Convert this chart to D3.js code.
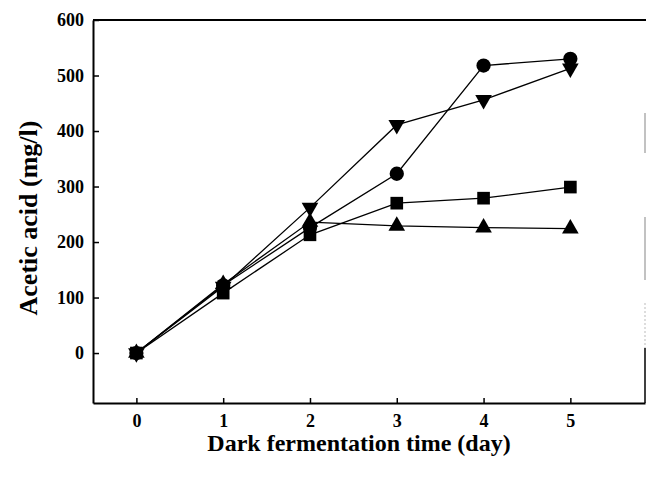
<!DOCTYPE html>
<html>
<head>
<meta charset="utf-8">
<script src="https://cdn.jsdelivr.net/npm/d3@7"></script>
<style>
  body { margin: 0; background: #fff; }
  svg text { font-family: "Liberation Serif", "Times New Roman", serif; font-weight: bold; }
</style>
</head>
<body>
<svg id="chart"></svg>
<script>
// acetic acid over dark fermentation days, four runs
var days = [0, 1, 2, 3, 4, 5];
var circleVals = [0, 122, 226, 323, 518, 530];
var downTriVals = [0, 120, 262, 411, 456, 513];
var squareVals = [0, 108, 213, 270, 279, 299];
var upTriVals = [0, 124, 236, 229, 226, 224];
var yTicks = [0, 100, 200, 300, 400, 500, 600];

var WIDTH = 646, HEIGHT = 477;
var svg = d3.select('#chart').attr('width', WIDTH).attr('height', HEIGHT);

var xScale = d3.scaleLinear().domain([-0.5, 5.86]).range([93, 645]);
var yScale = d3.scaleLinear().domain([-90, 600]).range([403, 20]);

// left axis, ticks pointing inward
var leftAxis = d3.axisLeft(yScale).tickValues(yTicks).tickFormat(d3.format('d'))
  .tickSizeInner(-6).tickSizeOuter(0).tickPadding(9);
var gy = svg.append('g').attr('transform', 'translate(93,0)').call(leftAxis);
gy.selectAll('text').style('font-size', '18px').attr('fill', '#000');

var bottomAxis = d3.axisBottom(xScale).tickValues(days).tickFormat(d3.format('d'))
  .tickSizeInner(-5).tickSizeOuter(0).tickPadding(11);
var gx = svg.append('g').attr('transform', 'translate(0,403)').call(bottomAxis);
gx.selectAll('text').style('font-size', '18px').attr('fill', '#000');

svg.selectAll('.domain').attr('stroke', '#000').attr('stroke-width', 2);
svg.selectAll('.tick line').attr('stroke', '#000').attr('stroke-width', 1.5);

// top frame line and faint right edge
svg.append('line').attr('x1', 93).attr('x2', 646).attr('y1', 20).attr('y2', 20)
  .attr('stroke', '#000').attr('stroke-width', 2);
svg.append('line').attr('x1', 645).attr('x2', 645).attr('y1', 113).attr('y2', 153)
  .attr('stroke', '#999').attr('stroke-width', 1.2);
svg.append('line').attr('x1', 645).attr('x2', 645).attr('y1', 217).attr('y2', 280)
  .attr('stroke', '#999').attr('stroke-width', 1.2);
svg.append('line').attr('x1', 645).attr('x2', 645).attr('y1', 303).attr('y2', 348)
  .attr('stroke', '#bbb').attr('stroke-width', 1).attr('stroke-dasharray', '2,2');
svg.append('line').attr('x1', 645).attr('x2', 645).attr('y1', 348).attr('y2', 403)
  .attr('stroke', '#000').attr('stroke-width', 1.5);

var series = [
  {vals: squareVals, sym: d3.symbolSquare, size: 160, rot: 0},
  {vals: upTriVals, sym: d3.symbolTriangle, size: 120, rot: 0},
  {vals: circleVals, sym: d3.symbolCircle, size: 160, rot: 0},
  {vals: downTriVals, sym: d3.symbolTriangle, size: 120, rot: 180}
];

var line = d3.line()
  .x(function(d, i) { return xScale(days[i]); })
  .y(function(d) { return yScale(d); });

series.forEach(function(s) {
  svg.append('path').datum(s.vals).attr('d', line)
    .attr('fill', 'none').attr('stroke', '#000').attr('stroke-width', 1.3);
});

series.forEach(function(s) {
  svg.selectAll(null).data(s.vals).enter().append('path')
    .attr('d', d3.symbol().type(s.sym).size(s.size))
    .attr('transform', function(d, i) {
      return 'translate(' + xScale(days[i]) + ',' + yScale(d) + ') rotate(' + s.rot + ')';
    })
    .attr('fill', '#000');
});

svg.append('text').attr('x', 359).attr('y', 451).attr('text-anchor', 'middle')
  .style('font-size', '24px').text('Dark fermentation time (day)');
svg.append('text').attr('transform', 'translate(37,218) rotate(-90)').attr('text-anchor', 'middle')
  .style('font-size', '26px').text('Acetic acid (mg/l)');
</script>
</body>
</html>
